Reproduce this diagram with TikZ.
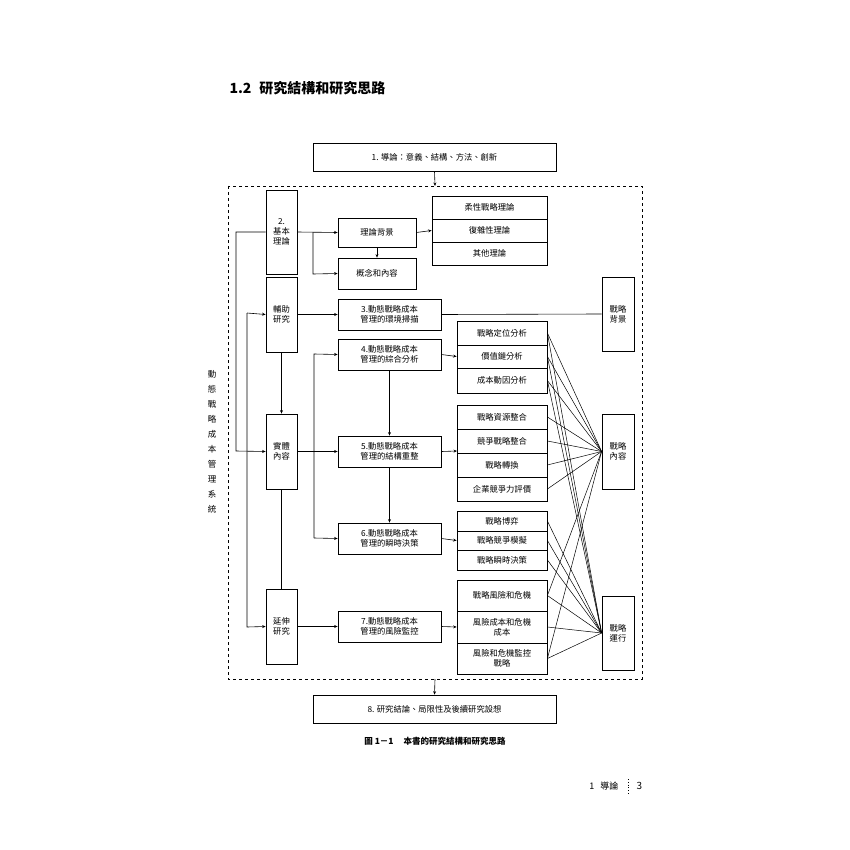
\documentclass[tikz,border=0pt]{standalone}
\usepackage{fontspec}
\setmainfont{Noto Sans CJK TC}
\usetikzlibrary{arrows.meta}
\begin{document}
\begin{tikzpicture}[x=1pt,y=-1pt,
  bx/.style={draw,line width=0.8pt,inner sep=0pt,font=\fontsize{8.3}{10}\selectfont,align=center},
  ar/.style={-{Stealth[length=3.5pt,width=3pt]},line width=0.6pt},
  ln/.style={line width=0.6pt},
  fan/.style={line width=0.5pt}]
\useasboundingbox (0,0) rectangle (850,850);
\node[anchor=west,font=\bfseries\fontsize{14}{16}\selectfont] (hd) at (226,88) {1.2\hspace{8pt}研究結構和研究思路};
\newcommand{\bb}[6]{\node[bx,minimum width=#4-#2,minimum height=#5-#3] (#1) at ({(#2+#4)/2},{(#3+#5)/2}) {#6};}
\bb{b1}{313}{143}{556}{171}{1. 導論：意義、結構、方法、創新}
\draw[dashed,line width=0.7pt] (228,186) rectangle (642,679);
\coordinate (dt) at (435,186);
\coordinate (db) at (435,679);
\draw[ar] (b1.south) -- (dt);
\bb{k2}{266}{190}{297}{274}{2.\\基本\\理論}
\bb{fz}{266}{277}{297}{352}{輔助\\研究}
\bb{st}{266}{414}{297}{489}{實體\\內容}
\bb{ys}{266}{589}{297}{664}{延伸\\研究}
\bb{lb}{338}{218}{416}{247}{理論背景}
\bb{gn}{338}{258}{416}{289}{概念和內容}
\bb{t1}{432}{196}{547}{219}{柔性戰略理論}
\bb{t2}{432}{219}{547}{242}{復雜性理論}
\bb{t3}{432}{242}{547}{265}{其他理論}
\bb{n3}{338}{299}{441}{330}{3.動態戰略成本\\管理的環境掃描}
\bb{n4}{338}{339}{441}{370}{4.動態戰略成本\\管理的綜合分析}
\bb{n5}{338}{436}{441}{467}{5.動態戰略成本\\管理的結構重整}
\bb{n6}{338}{523}{441}{554}{6.動態戰略成本\\管理的瞬時決策}
\bb{n7}{338}{611}{441}{642}{7.動態戰略成本\\管理的風險監控}
\bb{rb}{602}{277}{634}{351}{戰略\\背景}
\bb{rn}{602}{414}{634}{489}{戰略\\內容}
\bb{ry}{602}{596}{634}{670}{戰略\\運行}
\bb{a1}{457}{321}{547}{345}{戰略定位分析}
\bb{a2}{457}{345}{547}{368}{價值鏈分析}
\bb{a3}{457}{368}{547}{393}{成本動因分析}
\bb{c1}{457}{405}{547}{429}{戰略資源整合}
\bb{c2}{457}{429}{547}{453}{競爭戰略整合}
\bb{c3}{457}{453}{547}{477}{戰略轉換}
\bb{c4}{457}{477}{547}{501}{企業競爭力評價}
\bb{e1}{457}{511}{547}{531}{戰略博弈}
\bb{e2}{457}{531}{547}{550}{戰略競爭模擬}
\bb{e3}{457}{550}{547}{570}{戰略瞬時決策}
\bb{d1}{457}{580}{547}{611}{戰略風險和危機}
\bb{d2}{457}{611}{547}{643}{風險成本和危機\\成本}
\bb{d3}{457}{643}{547}{674}{風險和危機監控\\戰略}
\bb{b8}{313}{695}{556}{723}{8. 研究結論、局限性及後續研究設想}
\draw[ar] (db) -- (b8.north);
\node[font=\fontsize{8.5}{15}\selectfont,align=center] (sys) at (212,442) {動\\態\\戰\\略\\成\\本\\管\\理\\系\\統};
\node[font=\bfseries\fontsize{8.5}{10}\selectfont] (cap) at (435,741) {圖 1－1\hspace{10pt}本書的研究結構和研究思路};
\node[font=\fontsize{9}{10}\selectfont,anchor=east] (ft) at (622,786) {1\hspace{6pt}導論};
\coordinate (fa) at (628,779);
\coordinate (fb) at (628,794);
\draw[dotted,line width=0.8pt] (fa) -- (fb);
\node[font=\fontsize{10}{11}\selectfont,anchor=west] (pg) at (633,786) {3};
\draw[ar] (k2.west) -- (236,232) -- (236,451) -- (st.west);
\draw[ar] (247,313) -- (fz.west);
\draw[ar] (247,313) -- (247,627) -- (ys.west);
\draw[ar] (fz.south) -- (st.north);
\draw[ln] (st.south) -- (ys.north);
\draw[ar] (k2.east) -- (lb.west);
\draw[ar] (313,232) -- (313,274) -- (gn.west);
\draw[ar] (lb.east) -- (t2.west);
\draw[ar] (lb.south) -- (gn.north);
\draw[ar] (fz.east) -- (n3.west);
\draw[ln] (n3.east) -- (rb.west);
\draw[ar] (st.east) -- (n5.west);
\draw[ar] (ys.east) -- (n7.west);
\draw[ar] (314,538) -- (314,354) -- (n4.west);
\draw[ar] (314,538) -- (n6.west);
\draw[ar] (n4.south) -- (n5.north);
\draw[ar] (n5.south) -- (n6.north);
\draw[ar] (n4.east) -- (a2.west);
\draw[ar] (n5.east) -- (457,451);
\draw[ar] (n6.east) -- (e2.west);
\draw[ar] (n7.east) -- (d2.west);
\foreach \s in {a1,a2,a3,c1,c2,c3,c4,d1,d3} \draw[fan] (\s.east) -- (rn.west);
\foreach \s in {a1,a2,a3,e1,e2,e3,d1,d2,d3} \draw[fan] (\s.east) -- (ry.west);
\end{tikzpicture}
\end{document}
